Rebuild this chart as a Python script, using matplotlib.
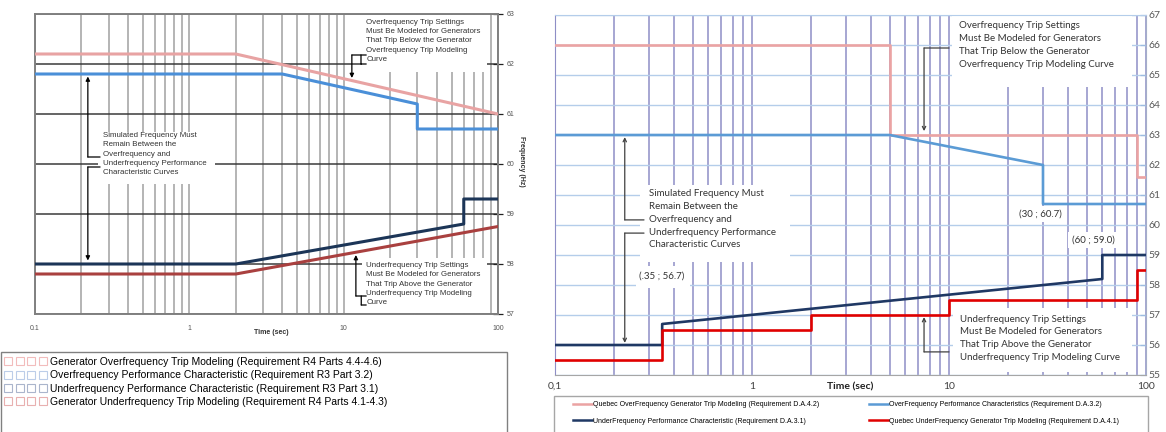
import matplotlib.pyplot as plt
from matplotlib.lines import Line2D
from matplotlib.patches import Rectangle
from matplotlib.ticker import LogLocator, FixedLocator, FixedFormatter, NullFormatter

plt.rcParams['font.family'] = ['Liberation Sans', 'DejaVu Sans']

W, H = 1166, 432

# ---- left chart (NERC curves) ----
l_t_oftrip = [0.1, 2, 100]
l_f_oftrip = [62.2, 62.2, 61.0]
l_t_ofperf = [0.1, 4, 30, 30, 100]
l_f_ofperf = [61.8, 61.8, 61.2, 60.7, 60.7]
l_t_ufperf = [0.1, 2, 60, 60, 100]
l_f_ufperf = [58.0, 58.0, 58.8, 59.3, 59.3]
l_t_uftrip = [0.1, 2, 100]
l_f_uftrip = [57.8, 57.8, 58.75]
l_labels = ["Generator Overfrequency Trip Modeling (Requirement R4 Parts 4.4-4.6)",
            "Overfrequency Performance Characteristic (Requirement R3 Part 3.2)",
            "Underfrequency Performance Characteristic (Requirement R3 Part 3.1)",
            "Generator Underfrequency Trip Modeling (Requirement R4 Parts 4.1-4.3)"]
l_colors = ['#e8a3a3', '#4a8fd8', '#1c3557', '#a9403f']
l_key_colors = ['#f2bcbc', '#bccde8', '#aab5cc', '#e8b0b0']

# ---- right chart (Quebec curves) ----
r_t_oftrip = [0.1, 5, 5, 90, 90, 100]
r_f_oftrip = [66, 66, 63, 63, 61.6, 61.6]
r_t_ofperf = [0.1, 5, 30, 30, 100]
r_f_ofperf = [63, 63, 62, 60.7, 60.7]
r_t_ufperf = [0.1, 0.35, 0.35, 60, 60, 100]
r_f_ufperf = [56, 56, 56.7, 58.2, 59, 59]
r_t_uftrip = [0.1, 0.35, 0.35, 2, 2, 10, 10, 90, 90, 100]
r_f_uftrip = [55.5, 55.5, 56.5, 56.5, 57, 57, 57.5, 57.5, 58.5, 58.5]
r_labels = ["Quebec OverFrequency Generator Trip Modeling (Requirement D.A.4.2)",
            "OverFrequency Performance Characteristics (Requirement D.A.3.2)",
            "UnderFrequency Performance Characteristic (Requirement D.A.3.1)",
            "Quebec UnderFrequency Generator Trip Modeling (Requirement D.A.4.1)"]
r_colors = ['#eba3a3', '#5b9bd5', '#1f3864', '#e00000']

xticks = [0.1, 1, 10, 100]
l_xticklabels = ['0.1', '1', '10', '100']
r_xticklabels = ['0,1', '1', '10', '100']
l_yticks = list(range(57, 64))
r_yticks = list(range(55, 68))


def fx(px):
    return px / W


def fy(py):
    return 1 - py / H


fig = plt.figure(figsize=(W / 100, H / 100), dpi=100)


def mask(ax, x0, y0, x1, y1):
    # white box hiding grid lines behind the notes
    ax.add_patch(Rectangle((fx(x0), fy(y1)), (x1 - x0) / W, (y1 - y0) / H,
                           transform=fig.transFigure, fc='white', ec='none', zorder=1))


def seg(ax, p0, p1, color, arrow=None, lw=0.9):
    ax.annotate('', xy=p1, xytext=p0,
                arrowprops=dict(arrowstyle=arrow or '-', color=color, lw=lw,
                                shrinkA=0, shrinkB=0, mutation_scale=6),
                zorder=4)


def log_x(ax, labels):
    ax.set_xscale('log')
    ax.set_xlim(0.1, 100)
    ax.xaxis.set_major_locator(FixedLocator(xticks))
    ax.xaxis.set_major_formatter(FixedFormatter(labels))
    ax.xaxis.set_minor_locator(LogLocator(base=10, subs=range(2, 10), numticks=20))
    ax.xaxis.set_minor_formatter(NullFormatter())
    ax.set_axisbelow(True)


# ================= left =================
ax1 = fig.add_axes([fx(35), fy(314), 463 / W, 300 / H])
log_x(ax1, l_xticklabels)
ax1.set_ylim(57, 63)
ax1.set_yticks(l_yticks)
ax1.yaxis.tick_right()
ax1.grid(axis='x', which='both', color='#a8a8a8', lw=1.2)
ax1.grid(axis='y', which='major', color='#3a3a3a', lw=1.1)
for s in ax1.spines.values():
    s.set_color('#808080')
    s.set_linewidth(1.4)
ax1.tick_params(axis='y', direction='inout', length=7, width=0.9, color='#222',
                labelsize=5, labelcolor='#555', pad=3, left=False, right=True)
ax1.tick_params(axis='x', which='both', length=0, labelsize=5, labelcolor='#555', pad=8)

ax1.plot(l_t_oftrip, l_f_oftrip, color=l_colors[0], lw=2.2, zorder=3)
ax1.plot(l_t_ofperf, l_f_ofperf, color=l_colors[1], lw=2.2, zorder=3)
ax1.plot(l_t_ufperf, l_f_ufperf, color=l_colors[2], lw=2.2, zorder=3)
ax1.plot(l_t_uftrip, l_f_uftrip, color=l_colors[3], lw=2.2, zorder=3)

ax1.set_xlabel('Time (sec)', fontsize=5, fontweight='bold', color='#333')
ax1.xaxis.set_label_coords(0.51, -0.05)
ax1.yaxis.set_label_position('right')
ax1.set_ylabel('Frequency (Hz)', fontsize=5, fontweight='bold', color='#333', rotation=270)
ax1.yaxis.set_label_coords(1.058, 0.51)

mask(ax1, 362, 15, 487, 72)
mask(ax1, 98, 132, 215, 184)
mask(ax1, 362, 258, 487, 313)

note = dict(fontsize=5.7, color='#333', linespacing=1.45, va='top', ha='left', zorder=4)
ax1.text(14.0, 62.9, "Overfrequency Trip Settings\nMust Be Modeled for Generators\n"
         "That Trip Below the Generator\nOverfrequency Trip Modeling\nCurve", **note)
seg(ax1, (14.0, 62.18), (11.3, 62.18), 'k')
seg(ax1, (11.3, 62.18), (11.3, 61.72), 'k', '-|>')
seg(ax1, (12.95, 62.18), (12.95, 62.0), 'k')
seg(ax1, (12.95, 62.0), (14.0, 62.0), 'k')

ax1.text(0.276, 60.64, "Simulated Frequency Must\nRemain Between the\nOverfrequency and\n"
         "Underfrequency Performance\nCharacteristic Curves", **note)
seg(ax1, (0.264, 60.14), (0.22, 60.14), 'k')
seg(ax1, (0.22, 60.14), (0.22, 61.75), 'k', '-|>')
seg(ax1, (0.264, 59.94), (0.22, 59.94), 'k')
seg(ax1, (0.22, 59.94), (0.22, 58.07), 'k', '-|>')

ax1.text(14.0, 58.04, "Underfrequency Trip Settings\nMust Be Modeled for Generators\n"
         "That Trip Above the Generator\nUnderfrequency Trip Modeling\nCurve", **note)
seg(ax1, (14.0, 57.36), (12.0, 57.36), 'k')
seg(ax1, (12.0, 57.36), (12.0, 58.18), 'k', '-|>')
seg(ax1, (13.0, 57.36), (13.0, 57.18), 'k')
seg(ax1, (13.0, 57.18), (14.0, 57.18), 'k')

l_handles = [Line2D([], [], ls='none', marker='s', ms=6, mfc='none', mec=c, mew=0.8)
             for c in l_key_colors]
ax1.legend(l_handles, l_labels, loc='upper left', bbox_to_anchor=(fx(5), fy(357)),
           bbox_transform=fig.transFigure, frameon=False, numpoints=4,
           handlelength=3.9, handletextpad=0.45, labelspacing=0.32,
           borderpad=0, borderaxespad=0, fontsize=7.5)
fig.add_artist(Rectangle((fx(1), fy(433)), 506 / W, 81 / H, transform=fig.transFigure,
                         fill=False, ec='#808080', lw=1.0))

# ================= right =================
ax2 = fig.add_axes([fx(555), fy(375), 591 / W, 360 / H])
log_x(ax2, r_xticklabels)
ax2.set_ylim(55, 67)
ax2.set_yticks(r_yticks)
ax2.yaxis.tick_right()
ax2.grid(axis='x', which='both', color='#8e8ec6', lw=1.1)
ax2.grid(axis='y', which='major', color='#b4cdea', lw=1.0)
ax2.spines['top'].set_color('#b4cdea')
ax2.spines['left'].set_color('#8e8ec6')
ax2.spines['right'].set_color('#a4aec8')
ax2.spines['bottom'].set_color('#a6a6a6')
ax2.tick_params(axis='y', direction='in', length=4, width=0.9, color='#9dbbe0',
                labelsize=7.5, labelcolor='#595959', pad=2, left=False, right=True)
ax2.tick_params(axis='x', which='both', length=0, labelsize=7.5, labelcolor='#404040', pad=5)
plt.setp(ax2.get_xticklabels() + ax2.get_yticklabels(), family='Lato')

ax2.plot(r_t_oftrip, r_f_oftrip, color=r_colors[0], lw=1.9, zorder=3)
ax2.plot(r_t_ofperf, r_f_ofperf, color=r_colors[1], lw=1.9, zorder=3)
ax2.plot(r_t_ufperf, r_f_ufperf, color=r_colors[2], lw=1.9, zorder=3)
ax2.plot(r_t_uftrip, r_f_uftrip, color=r_colors[3], lw=1.9, zorder=3)

ax2.set_xlabel('Time (sec)', fontsize=7.5, fontweight='bold', color='#222', family='Lato')
ax2.xaxis.set_label_coords(0.5, -0.022)

mask(ax2, 952, 16, 1132, 87)
mask(ax2, 640, 185, 790, 262)
mask(ax2, 636, 266, 690, 288)
mask(ax2, 1015, 206, 1066, 222)
mask(ax2, 1068, 232, 1118, 248)
mask(ax2, 953, 308, 1132, 372)

rnote = dict(fontsize=7, color='#333', family='Lato', va='top', ha='left', zorder=4)
g = '#404040'
ax2.text(11.24, 66.8, "Overfrequency Trip Settings\nMust Be Modeled for Generators\n"
         "That Trip Below the Generator\nOverfrequency Trip Modeling Curve",
         linespacing=1.58, **rnote)
seg(ax2, (10.0, 65.9), (7.47, 65.9), g)
seg(ax2, (7.47, 65.9), (7.47, 63.13), g, '->')

ax2.text(0.300, 61.2, "Simulated Frequency Must\nRemain Between the\nOverfrequency and\n"
         "Underfrequency Performance\nCharacteristic Curves", linespacing=1.55, **rnote)
seg(ax2, (0.283, 60.17), (0.226, 60.17), g)
seg(ax2, (0.226, 60.17), (0.226, 62.93), g, '->')
seg(ax2, (0.283, 59.73), (0.226, 59.73), g)
seg(ax2, (0.226, 59.73), (0.226, 56.07), g, '->')

ax2.text(11.4, 57.0, "Underfrequency Trip Settings\nMust Be Modeled for Generators\n"
         "That Trip Above the Generator\nUnderfrequency Trip Modeling Curve",
         linespacing=1.5, **rnote)
seg(ax2, (10.0, 55.77), (7.47, 55.77), g)
seg(ax2, (7.47, 55.77), (7.47, 56.93), g, '->')

pt = dict(fontsize=7, color='#333', family='Lato', ha='center', va='center', zorder=4)
ax2.text(29.0, 60.37, "(30 ; 60.7)", **pt)
ax2.text(53.8, 59.5, "(60 ; 59.0)", **pt)
ax2.text(0.349, 58.3, "(.35 ; 56.7)", **pt)

r_handles = [Line2D([], [], color=c, lw=1.8) for c in r_colors]
order = [0, 2, 1, 3]
ax2.legend([r_handles[i] for i in order], [r_labels[i] for i in order],
           loc='upper left', bbox_to_anchor=(fx(573), fy(401)), bbox_transform=fig.transFigure,
           ncol=2, frameon=False, fontsize=5, handlelength=2.75, handletextpad=0.1,
           columnspacing=7.2, labelspacing=1.4, borderpad=0, borderaxespad=0)
fig.add_artist(Rectangle((fx(554), fy(433)), 594 / W, 37 / H, transform=fig.transFigure,
                         fill=False, ec='#a6a6a6', lw=1.0))

fig.savefig('out.png', dpi=100)
